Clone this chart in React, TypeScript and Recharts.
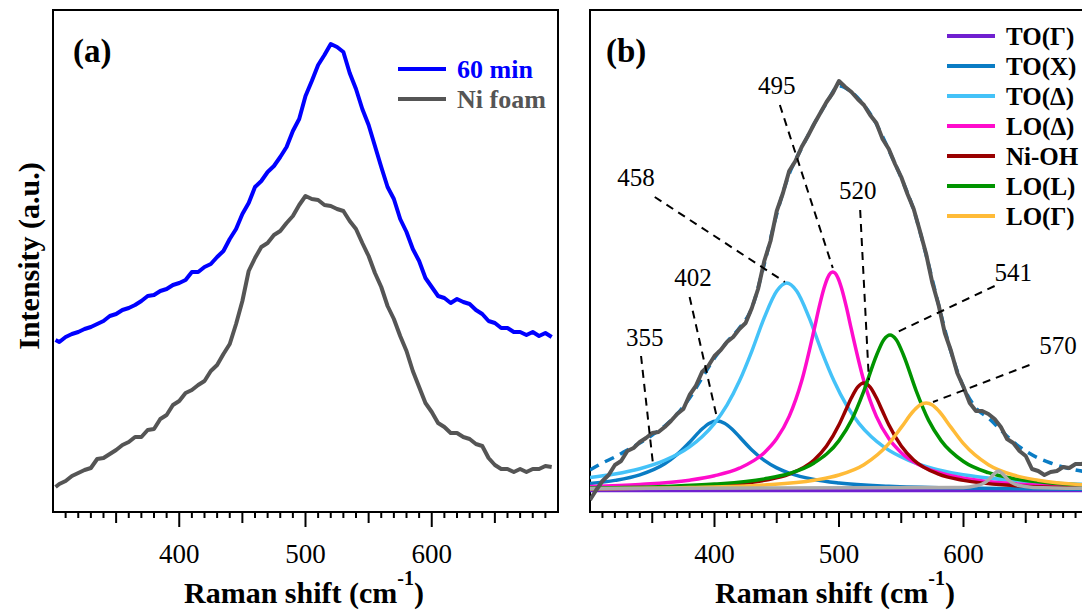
import React from 'react';
import { LineChart, Line, XAxis, YAxis, ReferenceArea, ReferenceLine, ReferenceDot } from 'recharts';

// panel (a): measured spectra
const shiftA = [302, 305, 310, 315, 320, 325, 330, 335, 340, 345, 350, 355, 360, 365, 370, 375, 380, 385, 390, 395,
  400, 405, 410, 415, 420, 425, 430, 435, 440, 445, 450, 455, 460, 465, 470, 475, 480, 485, 490, 495,
  500, 505, 510, 515, 520, 525, 530, 535, 540, 545, 550, 555, 560, 565, 570, 575, 580, 585, 590, 595,
  600, 605, 610, 615, 620, 625, 630, 635, 640, 645, 650, 655, 660, 665, 670, 675, 680, 685, 690, 695];
const min60A = [172, 170, 175, 178, 180, 183, 185, 188, 191, 196, 198, 202, 204, 207, 211, 216, 217, 221, 223, 227,
  229, 232, 240, 240, 245, 248, 255, 261, 273, 283, 298, 309, 325, 331, 340, 346, 355, 365, 381, 393,
  416, 431, 447, 457, 468, 465, 460, 439, 423, 403, 387, 366, 345, 325, 313, 293, 280, 263, 251, 234,
  225, 216, 214, 209, 213, 210, 208, 202, 198, 191, 189, 184, 184, 180, 180, 177, 180, 176, 179, 175];
const niFoamA = [25, 28, 31, 36, 39, 42, 44, 53, 54, 58, 62, 67, 70, 75, 75, 82, 83, 93, 97, 107,
  111, 119, 122, 127, 131, 141, 147, 158, 168, 188, 211, 241, 254, 265, 269, 277, 281, 289, 296, 307,
  316, 313, 312, 307, 306, 303, 301, 291, 283, 269, 256, 239, 225, 206, 193, 176, 161, 141, 125, 109,
  100, 89, 85, 79, 79, 75, 73, 68, 66, 54, 47, 43, 43, 40, 43, 40, 43, 43, 46, 45];

// panel (b): measured spectrum and fit envelope
const shiftB = [300, 305, 310, 315, 320, 325, 330, 335, 340, 345, 350, 355, 360, 365, 370, 375, 380, 385, 390, 395,
  400, 405, 410, 415, 420, 425, 430, 435, 440, 445, 450, 455, 460, 465, 470, 475, 480, 485, 490, 495,
  500, 505, 510, 515, 520, 525, 530, 535, 540, 545, 550, 555, 560, 565, 570, 575, 580, 585, 590, 595,
  600, 605, 610, 615, 620, 625, 630, 635, 640, 645, 650, 655, 660, 665, 670, 675, 680, 685, 690, 695, 700];
const measuredB = [12, 22, 31, 37, 47, 51, 61, 64, 70, 74, 79, 80, 85, 91, 98, 103, 117, 126, 140, 146,
  156, 162, 170, 175, 183, 189, 204, 223, 251, 271, 301, 319, 341, 351, 365, 376, 388, 399, 410, 419,
  431, 425, 420, 413, 407, 397, 389, 373, 363, 348, 335, 318, 303, 281, 258, 229, 207, 179, 161, 139,
  125, 109, 101, 101, 98, 93, 85, 73, 69, 61, 56, 43, 41, 37, 40, 41, 45, 44, 48, 48, 50];
const fitShift = [300, 310, 320, 330, 340, 350, 360, 370, 380, 390, 400, 410, 420, 430, 440, 450, 460, 470, 480, 490,
  500, 510, 520, 530, 540, 550, 560, 570, 580, 590, 600, 610, 620, 630, 640, 650, 660, 670, 680, 690, 700];
const fitSum = [42, 49, 55, 62, 69, 77, 86, 98, 114, 134, 154, 170, 184, 204, 248, 298, 338, 364, 388, 409,
  426, 420, 407, 388, 362, 334, 302, 257, 207, 160, 125, 104, 94, 82, 70, 61, 54, 49, 45, 42, 40];

// fitted components [shift, intensity]
const toGamma = [[300, 21.5], [500, 21.5], [700, 21.5]];
const toX = [[300, 28.5], [320, 31.6], [340, 37.2], [360, 48.3], [370, 57.6], [380, 69.8], [390, 83], [396, 88.8], [402, 91],
  [408, 88.8], [414, 83], [420, 75.2], [430, 62.1], [440, 51.6], [450, 44.1], [460, 38.9], [480, 32.5], [500, 29],
  [540, 25.7], [600, 23.9], [650, 23.2], [700, 22.8]];
const toDelta = [[300, 34.5], [320, 38], [340, 43.3], [360, 51.6], [380, 65.1], [390, 75.2], [400, 88.7], [410, 106.8],
  [420, 130.9], [430, 160.9], [440, 194.4], [450, 221], [458, 229], [466, 221], [476, 194.4], [486, 160.9], [496, 130.9],
  [506, 106.8], [516, 88.7], [526, 75.2], [536, 65.1], [556, 51.6], [576, 43.3], [596, 38], [616, 34.5], [650, 30.6], [700, 27.5]];
const loDelta = [[300, 25.5], [340, 27.5], [380, 31.8], [400, 36.2], [420, 43.8], [440, 59.3], [450, 73.4], [460, 95.6],
  [470, 131], [480, 182.3], [484, 204.6], [488, 224], [491, 234.6], [495, 240], [499, 234.6], [502, 224], [506, 204.6],
  [510, 182.3], [520, 131], [530, 95.6], [540, 73.4], [550, 59.3], [570, 43.8], [590, 36.2], [620, 30.4], [660, 26.9], [700, 25.2]];
const niOH = [[300, 23.4], [360, 24.5], [400, 26.5], [440, 31.6], [460, 37.8], [480, 52], [490, 65.9], [500, 87.2],
  [505, 100.7], [510, 114.2], [515, 124.9], [520, 129], [525, 124.9], [530, 114.2], [535, 100.7], [540, 87.2],
  [550, 65.9], [560, 52], [580, 37.8], [600, 31.6], [640, 26.5], [700, 24]];
const loL = [[300, 24.1], [360, 25.6], [400, 27.9], [440, 33.1], [460, 38.5], [480, 49], [500, 71.4], [510, 91.6],
  [520, 121.2], [530, 156.3], [536, 172.2], [541, 177], [546, 172.2], [552, 156.3], [562, 121.2], [572, 91.6],
  [582, 71.4], [600, 50.5], [620, 39.3], [640, 33.5], [670, 29], [700, 26.7]];
const loGamma = [[300, 23.2], [380, 24.4], [440, 27], [480, 31.8], [500, 37], [520, 47.3], [540, 68.3], [550, 84.6],
  [560, 101.2], [565, 106.9], [570, 109], [575, 106.9], [580, 101.2], [590, 84.6], [600, 68.3], [620, 47.3],
  [640, 37], [660, 31.8], [700, 27]];
const background = [[300, 23.5], [600, 24.6], [610, 26.2], [615, 28], [620, 32], [624, 37.4], [628, 41], [632, 37.4],
  [636, 32], [641, 28], [646, 26.2], [656, 24.6], [700, 23.6]];

const ticks = [310, 320, 330, 340, 350, 360, 370, 380, 390, 400, 410, 420, 430, 440, 450, 460, 470, 480, 490, 500,
  510, 520, 530, 540, 550, 560, 570, 580, 590, 600, 610, 620, 630, 640, 650, 660, 670, 680, 690];

const components = [
  { name: 'TO(Γ)', data: toGamma, color: '#7020d0' },
  { name: 'TO(X)', data: toX, color: '#0a7cc4' },
  { name: 'TO(Δ)', data: toDelta, color: '#44c2f8' },
  { name: 'LO(Δ)', data: loDelta, color: '#ff0ccc' },
  { name: 'Ni-OH', data: niOH, color: '#990000' },
  { name: 'LO(L)', data: loL, color: '#009400' },
  { name: 'LO(Γ)', data: loGamma, color: '#ffbb38' },
];

// peak labels: text position and leader line, in data units
const peakNotes = [
  { text: '355', tx: 344, ty: 175, x1: 341, y1: 156, x2: 350.5, y2: 49 },
  { text: '402', tx: 382.7, ty: 235, x1: 380, y1: 215, x2: 402, y2: 94 },
  { text: '458', tx: 337, ty: 335, x1: 352, y1: 315, x2: 456.5, y2: 230 },
  { text: '495', tx: 450, ty: 427, x1: 452.5, y1: 407, x2: 495, y2: 244 },
  { text: '520', tx: 515, ty: 322, x1: 517, y1: 302, x2: 524, y2: 132 },
  { text: '541', tx: 640, ty: 240, x1: 625, y1: 226, x2: 547, y2: 180 },
  { text: '570', tx: 676, ty: 167, x1: 653, y1: 147, x2: 575.5, y2: 110 },
];

const serif = '"Liberation Serif", "Times New Roman", serif';

const zip = (xs: number[], ys: number[]) => xs.map((x, i) => ({ x, y: ys[i] }));
const rows = (pairs: number[][]) => pairs.map(([x, y]) => ({ x, y }));

const RamanTick = (props: any) => {
  const { x, y, payload } = props;
  const v = payload.value;
  const major = v % 100 === 0;
  const mid = !major && v % 50 === 0;
  const len = major ? 15 : mid ? 11 : 6;
  return (
    <g>
      <line x1={x} x2={x} y1={y} y2={y + len} stroke="#000" strokeWidth={2} />
      {major && (
        <text x={x} y={y + 51} textAnchor="middle" fontFamily={serif} fontSize={27} fill="#000">
          {v}
        </text>
      )}
    </g>
  );
};

const axes = (
  [
    <XAxis key="x" dataKey="x" type="number" domain={[300, 700]} ticks={ticks} interval={0}
      tick={<RamanTick />} tickLine={false} tickSize={0} tickMargin={0} axisLine={false} height={99} allowDataOverflow />,
    <YAxis key="y" type="number" domain={[0, 502]} hide width={0} allowDataOverflow />,
  ]
);

const PanelA = () => (
  <LineChart width={580} height={611} margin={{ top: 10, right: 22, bottom: 0, left: 53 }}>
    {axes}
    <Line data={zip(shiftA, niFoamA)} dataKey="y" type="linear" stroke="#555555" strokeWidth={4}
      dot={false} isAnimationActive={false} strokeLinejoin="round" />
    <Line data={zip(shiftA, min60A)} dataKey="y" type="linear" stroke="#0000ff" strokeWidth={4}
      dot={false} isAnimationActive={false} strokeLinejoin="round" />
    <ReferenceArea x1={300} x2={700} y1={0} y2={502} fill="none" stroke="#000" strokeWidth={2} ifOverflow="visible" />
  </LineChart>
);

const PanelB = () => (
  <LineChart width={540} height={611} margin={{ top: 10, right: 22, bottom: 0, left: 20 }}>
    {axes}
    {components.map((c) => (
      <Line key={c.name} data={rows(c.data)} dataKey="y" type="monotone" stroke={c.color} strokeWidth={3.5}
        dot={false} isAnimationActive={false} />
    ))}
    <Line data={rows(background)} dataKey="y" type="monotone" stroke="#aaaaaa" strokeWidth={3.5}
      dot={false} isAnimationActive={false} />
    <Line data={zip(fitShift, fitSum)} dataKey="y" type="monotone" stroke="#0a7cc4" strokeWidth={3.5}
      strokeDasharray="10 7" dot={false} isAnimationActive={false} />
    <Line data={zip(shiftB, measuredB)} dataKey="y" type="linear" stroke="#555555" strokeWidth={4}
      dot={false} isAnimationActive={false} strokeLinejoin="round" />
    {peakNotes.map((n) => (
      <ReferenceLine key={'l' + n.text} segment={[{ x: n.x1, y: n.y1 }, { x: n.x2, y: n.y2 }]}
        stroke="#000" strokeWidth={2} strokeDasharray="8 6" ifOverflow="visible" />
    ))}
    {peakNotes.map((n) => (
      <ReferenceDot key={'t' + n.text} x={n.tx} y={n.ty} r={1} fill="none" stroke="none" ifOverflow="visible"
        label={{ value: n.text, position: 'center', fontSize: 25, fontFamily: serif, fill: '#000' }} />
    ))}
    <ReferenceArea x1={300} x2={700} y1={0} y2={502} fill="none" stroke="#000" strokeWidth={2} ifOverflow="visible" />
  </LineChart>
);

const AxisTitle = ({ cx }: { cx: number }) => (
  <text x={cx} y={603} textAnchor="middle" fontFamily={serif} fontWeight="bold" fontSize={30} fill="#000">
    Raman shift (cm<tspan fontSize={20} dy={-18}>-1</tspan><tspan dy={18}>)</tspan>
  </text>
);

export default function App() {
  return (
    <div style={{ position: 'fixed', left: 0, top: 0, width: 1082, height: 611, overflow: 'hidden', background: '#fff' }}>
      <div style={{ position: 'absolute', left: 0, top: 0 }}>
        <PanelA />
      </div>
      <div style={{ position: 'absolute', left: 570, top: 0 }}>
        <PanelB />
      </div>
      <svg width={1082} height={611} style={{ position: 'absolute', left: 0, top: 0, pointerEvents: 'none' }}>
        <text x={73} y={62} fontFamily={serif} fontWeight="bold" fontSize={33} fill="#000">(a)</text>
        <text x={606} y={62} fontFamily={serif} fontWeight="bold" fontSize={33} fill="#000">(b)</text>
        <text transform="translate(39,256) rotate(-90)" textAnchor="middle" fontFamily={serif} fontWeight="bold"
          fontSize={30} fill="#000">Intensity (a.u.)</text>
        <AxisTitle cx={304} />
        <AxisTitle cx={835} />

        <line x1={398} x2={446} y1={69} y2={69} stroke="#0000ff" strokeWidth={4} />
        <text x={457} y={78} fontFamily={serif} fontWeight="bold" fontSize={26} fill="#0000ff">60 min</text>
        <line x1={398} x2={446} y1={99} y2={99} stroke="#555555" strokeWidth={4} />
        <text x={457} y={108} fontFamily={serif} fontWeight="bold" fontSize={26} fill="#555555">Ni foam</text>

        {components.map((c, i) => (
          <g key={c.name}>
            <line x1={947} x2={995} y1={36 + i * 30} y2={36 + i * 30} stroke={c.color} strokeWidth={4} />
            <text x={1006} y={45 + i * 30} fontFamily={serif} fontWeight="bold" fontSize={25} fill="#000">{c.name}</text>
          </g>
        ))}
      </svg>
    </div>
  );
}
